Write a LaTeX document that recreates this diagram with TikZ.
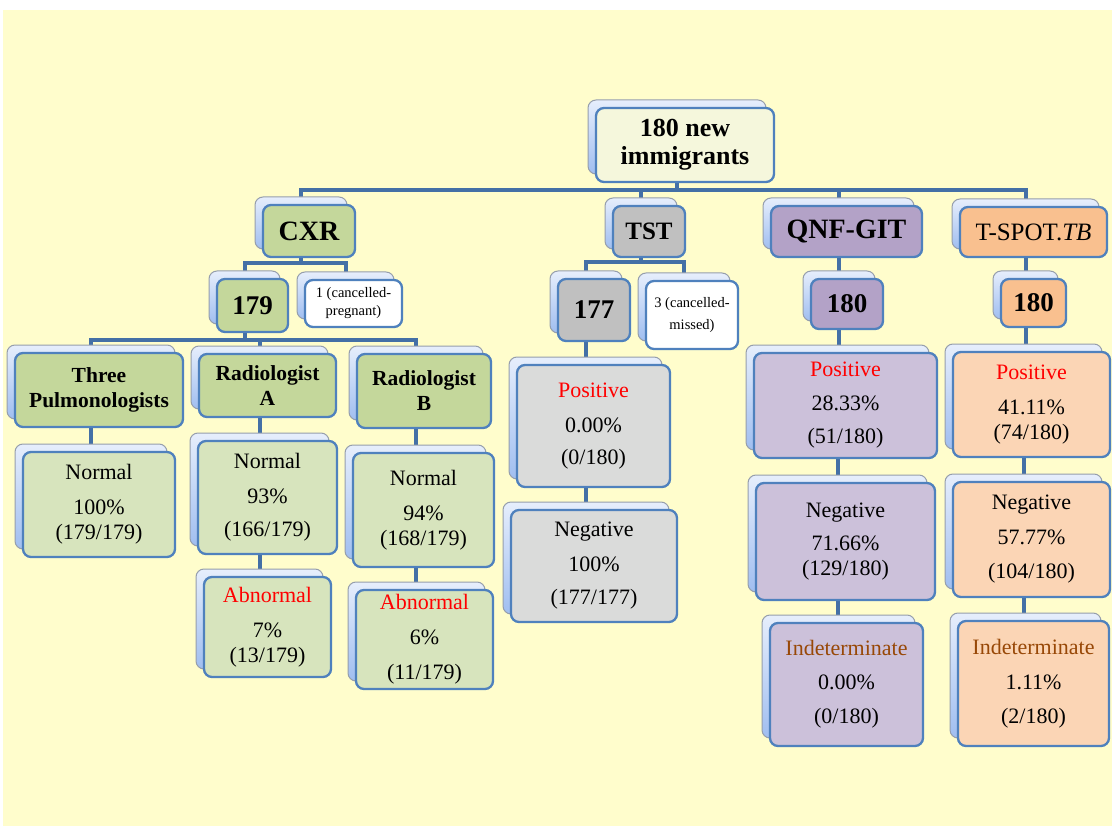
\documentclass[tikz,border=0pt]{standalone}
\usepackage{fontspec}
\setmainfont{Liberation Serif}
\definecolor{bgyellow}{RGB}{255,253,204}
\definecolor{framec}{RGB}{79,129,189}
\definecolor{connc}{RGB}{68,112,166}
\definecolor{backtop}{RGB}{230,238,252}
\definecolor{backbot}{RGB}{160,190,240}
\definecolor{backedge}{RGB}{150,158,172}
\definecolor{rootfill}{RGB}{245,247,220}
\definecolor{gdark}{RGB}{196,215,155}
\definecolor{glight}{RGB}{215,228,189}
\definecolor{grdark}{RGB}{192,192,192}
\definecolor{grlight}{RGB}{218,219,218}
\definecolor{pdark}{RGB}{179,162,199}
\definecolor{plight}{RGB}{204,193,218}
\definecolor{odark}{RGB}{249,192,143}
\definecolor{olight}{RGB}{251,213,181}
\definecolor{posred}{RGB}{255,0,0}
\definecolor{indbrown}{RGB}{152,72,7}
\pgfdeclarelayer{bglayer}
\pgfdeclarelayer{lines}
\pgfsetlayers{bglayer,lines,main}
\newcommand\bx[7][]{%
  \node[backbox, minimum width={#5-#3}, minimum height={#6-#4}] (#2b) at ({(#3+#5)/2-8},{(#4+#6)/2-8}) {};
  \node[frontbox, minimum width={#5-#3}, minimum height={#6-#4}, #1] (#2) at ({(#3+#5)/2},{(#4+#6)/2}) {#7};
}
\begin{document}
\begin{tikzpicture}[x=1pt,y=-1pt,
  backbox/.style={rectangle, rounded corners=8pt, draw=backedge, line width=1pt, top color=backtop, bottom color=backbot, inner sep=0pt},
  frontbox/.style={rectangle, rounded corners=8pt, draw=framec, line width=2.3pt, inner sep=0pt, align=center, text=black},
  conn/.style={draw=connc, line width=4pt},
  headf/.style={font=\bfseries\fontsize{28}{30}\selectfont},
  numf/.style={font=\bfseries\fontsize{27}{30}\selectfont},
  subf/.style={font=\bfseries\fontsize{21.5}{25}\selectfont},
  resf/.style={font=\fontsize{22}{25}\selectfont},
  smallf/.style={font=\fontsize{14.5}{18}\selectfont},
]
\useasboundingbox (0,0) rectangle (1112,829);
\begin{pgfonlayer}{bglayer}
\fill[bgyellow] (3,10) rectangle (1112,826);
\end{pgfonlayer}

% level 0
\bx[fill=rootfill, font=\bfseries\fontsize{26}{28}\selectfont]{root}{596}{108}{774}{182}{180 new\\immigrants}
% level 1
\bx[fill=gdark, headf]{cxr}{263}{205}{355}{257}{CXR}
\bx[fill=grdark, font=\bfseries\fontsize{25}{28}\selectfont]{tst}{613}{206}{685}{257}{TST}
\bx[fill=pdark, headf]{qnf}{771}{206}{922}{257}{QNF-GIT}
\bx[fill=odark, font=\fontsize{25}{28}\selectfont]{tspot}{960}{207}{1107}{257}{T-SPOT.\textit{TB}}
% level 2
\bx[fill=gdark, numf]{nA}{217}{279}{288}{332}{179}
\bx[fill=white, smallf]{cancA}{305}{280}{402}{327}{1 (cancelled-\\pregnant)}
\bx[fill=grdark, numf]{nT}{558}{279}{630}{341}{177}
\bx[fill=white, smallf]{cancT}{646}{281}{738}{349}{3 (cancelled-\\[4pt]missed)}
\bx[fill=pdark, numf]{nQ}{811}{279}{883}{329}{180}
\bx[fill=odark, numf]{nS}{1001}{279}{1066}{327}{180}
% CXR readers
\bx[fill=gdark, subf]{tp}{15}{353}{183}{427}{Three\\Pulmonologists}
\bx[fill=gdark, subf]{ra}{199}{354}{336}{417}{Radiologist\\A}
\bx[fill=gdark, subf]{rb}{357}{354}{491}{428}{Radiologist\\B}
% CXR results
\bx[fill=glight, resf]{tpn}{23}{452}{175}{557}{Normal\\[10pt]100\%\\(179/179)}
\bx[fill=glight, resf]{ran}{198}{441}{337}{554}{Normal\\[10pt]93\%\\[8pt](166/179)}
\bx[fill=glight, resf]{raa}{204}{577}{331}{677}{\textcolor{posred}{Abnormal}\\[10pt]7\%\\(13/179)}
\bx[fill=glight, resf]{rbn}{353}{453}{494}{567}{Normal\\[10pt]94\%\\(168/179)}
\bx[fill=glight, resf]{rba}{356}{590}{493}{689}{\textcolor{posred}{Abnormal}\\[10pt]6\%\\[10pt](11/179)}
% TST results
\bx[fill=grlight, resf]{tstp}{517}{365}{670}{487}{\textcolor{posred}{Positive}\\[10pt]0.00\%\\[7pt](0/180)}
\bx[fill=grlight, resf]{tstn}{511}{510}{677}{622}{Negative\\[10pt]100\%\\[8pt](177/177)}
% QNF results
\bx[fill=plight, resf]{qp}{754}{353}{937}{458}{\textcolor{posred}{Positive}\\[9pt]28.33\%\\[8pt](51/180)}
\bx[fill=plight, resf]{qn}{756}{483}{935}{600}{Negative\\[8pt]71.66\%\\(129/180)}
\bx[fill=plight, resf]{qi}{770}{623}{923}{746}{\textcolor{indbrown}{Indeterminate}\\[9pt]0.00\%\\[9pt](0/180)}
% T-SPOT results
\bx[fill=olight, resf]{sp}{953}{352}{1110}{457}{\textcolor{posred}{Positive}\\[10pt]41.11\%\\(74/180)}
\bx[fill=olight, resf]{sn}{953}{482}{1110}{597}{Negative\\[10pt]57.77\%\\[9pt](104/180)}
\bx[fill=olight, resf]{si}{958}{621}{1109}{746}{\textcolor{indbrown}{Indeterminate}\\[10pt]1.11\%\\[9pt](2/180)}

\coordinate (busA) at (0,190);
\coordinate (busC) at (0,263);
\coordinate (busT) at (0,262);
\coordinate (busN) at (0,340);

\begin{pgfonlayer}{lines}
\foreach \ch in {cxr,tst,qnf,tspot}
  \draw[conn] (rootb.center) -- (rootb.center |- busA) -| (\ch b.center);
\foreach \ch in {nA,cancA}
  \draw[conn] (cxrb.center) -- (cxrb.center |- busC) -| (\ch b.center);
\foreach \ch in {nT,cancT}
  \draw[conn] (tstb.center) -- (tstb.center |- busT) -| (\ch b.center);
\foreach \ch in {tp,ra,rb}
  \draw[conn] (nAb.center) -- (nAb.center |- busN) -| (\ch b.center);
\draw[conn] (qnfb.center) -- (qnfb.center |- nQb.center);
\draw[conn] (tspotb.center) -- (tspotb.center |- nSb.center);
\draw[conn] (tpb.center) -- (tpb.center |- tpnb.center);
\draw[conn] (rab.center) -- (rab.center |- ranb.center);
\draw[conn] (ranb.center) -- (ranb.center |- raab.center);
\draw[conn] (rbb.center) -- (rbb.center |- rbnb.center);
\draw[conn] (rbnb.center) -- (rbnb.center |- rbab.center);
\draw[conn] (nTb.center) -- (nTb.center |- tstpb.center);
\draw[conn] (tstpb.center) -- (tstpb.center |- tstnb.center);
\draw[conn] (nQb.center) -- (nQb.center |- qpb.center);
\draw[conn] (qpb.center) -- (qpb.center |- qnb.center);
\draw[conn] (qnb.center) -- (qnb.center |- qib.center);
\draw[conn] (nSb.center) -- (nSb.center |- spb.center);
\draw[conn] (spb.center) -- (spb.center |- snb.center);
\draw[conn] (snb.center) -- (snb.center |- sib.center);
\end{pgfonlayer}
\end{tikzpicture}
\end{document}
